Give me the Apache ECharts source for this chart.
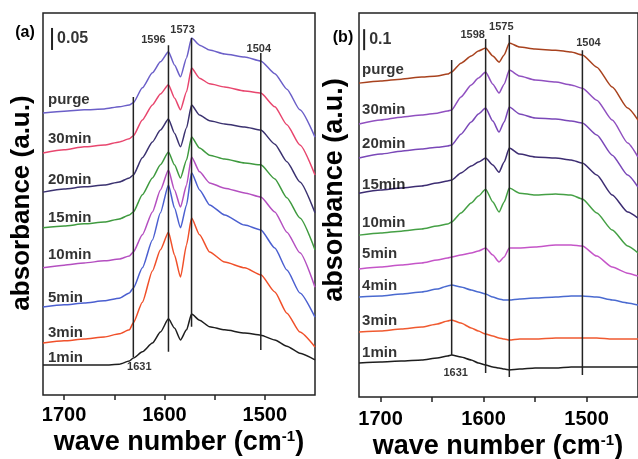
<!DOCTYPE html>
<html><head><meta charset="utf-8">
<script src="https://cdn.jsdelivr.net/npm/echarts@6/dist/echarts.min.js"></script>
<style>html,body{margin:0;padding:0;background:#fff}#c{width:638px;height:459px}</style>
</head><body><div id="c"></div>
<script>
// ---------- Panel (a) data ----------
const wnA = [1721,1700,1680,1660,1645,1635,1631,1622,1612,1604,1596,1590,1584,1578,1573,1565,1555,1540,1520,1504,1490,1478,1465,1450];
const a1min  = [0.068,0.068,0.068,0.068,0.070,0.077,0.084,0.098,0.118,0.143,0.173,0.152,0.125,0.148,0.184,0.170,0.155,0.148,0.141,0.136,0.125,0.111,0.095,0.080];
const a3min  = [0.118,0.123,0.127,0.132,0.139,0.148,0.164,0.211,0.282,0.330,0.370,0.318,0.268,0.341,0.402,0.364,0.325,0.302,0.289,0.273,0.234,0.186,0.143,0.109];
const a5min  = [0.200,0.205,0.209,0.214,0.220,0.232,0.243,0.289,0.352,0.414,0.477,0.425,0.380,0.432,0.505,0.466,0.432,0.409,0.386,0.375,0.334,0.284,0.232,0.177];
const a10min = [0.289,0.295,0.300,0.305,0.309,0.316,0.325,0.364,0.416,0.466,0.511,0.466,0.427,0.477,0.541,0.507,0.482,0.470,0.459,0.450,0.416,0.370,0.323,0.245];
const a15min = [0.380,0.384,0.389,0.393,0.400,0.409,0.416,0.455,0.493,0.523,0.552,0.523,0.493,0.534,0.586,0.561,0.545,0.536,0.527,0.523,0.491,0.448,0.402,0.330];
const a20min = [0.461,0.468,0.473,0.477,0.484,0.493,0.500,0.539,0.575,0.602,0.627,0.595,0.564,0.607,0.659,0.636,0.623,0.616,0.609,0.602,0.570,0.530,0.484,0.414];
const a30min = [0.550,0.557,0.564,0.568,0.575,0.582,0.589,0.625,0.659,0.684,0.705,0.675,0.648,0.689,0.743,0.720,0.707,0.700,0.691,0.686,0.655,0.614,0.568,0.500];
const aPurge = [0.641,0.645,0.648,0.650,0.655,0.659,0.664,0.698,0.732,0.757,0.780,0.750,0.723,0.766,0.811,0.795,0.784,0.775,0.768,0.759,0.730,0.695,0.648,0.586];
const namesA = ['1min','3min','5min','10min','15min','20min','30min','purge'];
const peakWnA = [1631,1596,1573,1504];
const peakTopA = [0.677,0.795,0.811,0.777];
const peakBottomA = [0.086,0.098,0.155,0.102];
const scaleA = [1712, 0.784, 0.05];

// ---------- Panel (b) data ----------
const wnB = [1721,1700,1680,1660,1645,1635,1631,1622,1612,1605,1598,1591,1585,1580,1575,1565,1550,1530,1515,1504,1490,1475,1460,1450];
const b1min  = [0.162,0.167,0.171,0.176,0.186,0.195,0.200,0.190,0.176,0.162,0.152,0.143,0.138,0.133,0.129,0.133,0.138,0.138,0.143,0.143,0.143,0.143,0.143,0.143];
const b3min  = [0.310,0.314,0.324,0.333,0.348,0.362,0.367,0.352,0.329,0.314,0.300,0.290,0.281,0.276,0.271,0.276,0.276,0.281,0.281,0.281,0.281,0.276,0.276,0.276];
const b4min  = [0.476,0.481,0.490,0.500,0.514,0.529,0.533,0.524,0.510,0.500,0.490,0.476,0.467,0.462,0.462,0.467,0.471,0.476,0.481,0.481,0.476,0.462,0.448,0.438];
const b5min  = [0.610,0.619,0.629,0.638,0.652,0.662,0.667,0.676,0.686,0.695,0.710,0.676,0.643,0.667,0.710,0.710,0.714,0.724,0.724,0.719,0.671,0.619,0.590,0.576];
const b10min = [0.771,0.781,0.790,0.800,0.814,0.824,0.833,0.876,0.924,0.957,0.990,0.929,0.881,0.929,0.995,0.971,0.962,0.967,0.962,0.943,0.876,0.795,0.719,0.686];
const b15min = [0.971,0.986,0.995,1.005,1.019,1.029,1.033,1.067,1.100,1.119,1.138,1.105,1.071,1.119,1.186,1.157,1.143,1.138,1.129,1.114,1.057,0.962,0.881,0.852];
const b20min = [1.138,1.157,1.171,1.181,1.190,1.195,1.200,1.252,1.310,1.348,1.376,1.314,1.262,1.310,1.381,1.348,1.329,1.324,1.314,1.305,1.248,1.152,1.057,1.000];
const b30min = [1.300,1.319,1.333,1.343,1.352,1.362,1.367,1.429,1.486,1.519,1.548,1.490,1.448,1.490,1.557,1.529,1.510,1.500,1.486,1.471,1.414,1.319,1.210,1.143];
const bPurge = [1.495,1.505,1.514,1.524,1.529,1.538,1.548,1.590,1.624,1.648,1.662,1.624,1.595,1.629,1.686,1.667,1.657,1.652,1.643,1.629,1.571,1.476,1.376,1.319];
const namesB = ['1min','3min','4min','5min','10min','15min','20min','30min','purge'];
const peakWnB = [1631,1598,1575,1504];
const peakTopB = [1.605,1.705,1.724,1.652];
const peakBottomB = [0.200,0.114,0.095,0.105];
const scaleB = [1716, 1.652, 0.1];

const xTickValues = [1700,1650,1600,1550,1500];
const xLabelValues = [1700,1600,1500];

// ---------- styles ----------
const FONT = "'Liberation Sans', Arial, sans-serif";
const colorsA = ['#1e1e1e','#f0502a','#4b5fd0','#b44fc0','#3f9a3f','#3b3270','#e8466e','#6b5fc8'];
const colorsB = ['#1e1e1e','#f05a30','#4a6ad0','#c555c8','#45a045','#3d2d72','#7a48b8','#9050c0','#a8421e'];
const labelOffA = [-7,-10,-9,-13,-10,-12,-14,-13];
const labelOffB = [-10,-11,-11,-15,-12,-8,-14,-14,-13];
const peakOffA = [[6,10],[-15,-5],[-9,-8],[-2,-4]];
const peakOffB = [[4,18],[-13,-4],[-8,-8],[6,-7]];

const curvesA = [a1min,a3min,a5min,a10min,a15min,a20min,a30min,aPurge];
const curvesB = [b1min,b3min,b4min,b5min,b10min,b15min,b20min,b30min,bPurge];

function panelSeries(idx, wn, curves, colors, names, labelWn, labelOff, peakWn, peakTop, peakBottom, peakOff, scale, scaleText) {
  const s = [];
  curves.forEach((c, i) => {
    s.push({
      type: 'line', xAxisIndex: idx, yAxisIndex: idx, showSymbol: false, smooth: 0.2, smoothMonotone: 'x',
      lineStyle: { color: colors[i], width: 1.5 }, z: 3,
      data: wn.map((w, k) => [w, c[k]])
    });
  });
  peakWn.forEach((w, i) => {
    s.push({
      type: 'line', xAxisIndex: idx, yAxisIndex: idx, showSymbol: false,
      lineStyle: { color: '#222', width: 1.5 }, z: 4,
      data: [[w, peakTop[i]], [w, peakBottom[i]]]
    });
  });
  s.push({
    type: 'scatter', xAxisIndex: idx, yAxisIndex: idx, symbolSize: 0, z: 5,
    data: peakWn.map((w, i) => ({
      value: i === 0 ? [w, peakBottom[i]] : [w, peakTop[i]],
      label: { show: true, position: 'inside', offset: peakOff[i], formatter: String(w),
        fontFamily: FONT, fontWeight: 'bold', fontSize: 11, color: '#000' }
    }))
  });
  s.push({
    type: 'scatter', xAxisIndex: idx, yAxisIndex: idx, symbolSize: 0, z: 5,
    data: curves.map((c, i) => ({
      value: [labelWn, c[0]],
      label: { show: true, position: 'right', distance: 0, offset: [0, labelOff[i]], formatter: names[i],
        fontFamily: FONT, fontWeight: 'bold', fontSize: 15, color: '#000' }
    }))
  });
  s.push({
    type: 'line', xAxisIndex: idx, yAxisIndex: idx, showSymbol: false,
    lineStyle: { color: '#222', width: 2 }, z: 5,
    data: [[scale[0], scale[1]], [scale[0], scale[1] + scale[2]]]
  });
  s.push({
    type: 'scatter', xAxisIndex: idx, yAxisIndex: idx, symbolSize: 0, z: 5,
    data: [{ value: [scale[0], scale[1] + scale[2] / 2],
      label: { show: true, position: 'right', distance: 5, formatter: scaleText,
        fontFamily: FONT, fontWeight: 'bold', fontSize: 16, color: '#000' } }]
  });
  return s;
}

function xAxisCfg(idx, margin) {
  return {
    type: 'value', gridIndex: idx, inverse: true, min: 1450, max: 1721,
    splitLine: { show: false }, axisLine: { show: false },
    axisTick: { show: true, inside: false, length: 5, customValues: xTickValues, lineStyle: { color: '#222', width: 1.5 } },
    axisLabel: { show: true, customValues: xLabelValues, margin: margin, formatter: v => String(v),
      fontFamily: FONT, fontWeight: 'bold', fontSize: 20, color: '#000' }
  };
}

const chart = echarts.init(document.getElementById('c'), null, { renderer: 'canvas' });
chart.setOption({
  animation: false,
  backgroundColor: '#ffffff',
  grid: [
    { left: 43, top: 13, width: 272, height: 382, show: true, borderColor: '#222', borderWidth: 1.5, backgroundColor: 'transparent' },
    { left: 359, top: 13, width: 282, height: 384, show: true, borderColor: '#222', borderWidth: 1.5, backgroundColor: 'transparent' }
  ],
  xAxis: [xAxisCfg(0, 10), xAxisCfg(1, 12)],
  yAxis: [
    { type: 'value', gridIndex: 0, min: 0, max: 0.868, show: false },
    { type: 'value', gridIndex: 1, min: 0, max: 1.829, show: false }
  ],
  series: [].concat(
    panelSeries(0, wnA, curvesA, colorsA, namesA, 1716, labelOffA, peakWnA, peakTopA, peakBottomA, peakOffA, scaleA, '0.05'),
    panelSeries(1, wnB, curvesB, colorsB, namesB, 1718, labelOffB, peakWnB, peakTopB, peakBottomB, peakOffB, scaleB, '0.1')
  ),
  graphic: [
    { type: 'text', x: 25, y: 33, style: { text: '(a)', font: "bold 16px 'Liberation Sans', Arial", fill: '#000', textAlign: 'center', textVerticalAlign: 'middle' } },
    { type: 'text', x: 343, y: 38, style: { text: '(b)', font: "bold 16px 'Liberation Sans', Arial", fill: '#000', textAlign: 'center', textVerticalAlign: 'middle' } },
    { type: 'text', x: 22, y: 203, rotation: Math.PI / 2, style: { text: 'absorbance (a.u.)', font: "bold 26px 'Liberation Sans', Arial", fill: '#000', textAlign: 'center', textVerticalAlign: 'middle' } },
    { type: 'text', x: 335, y: 190, rotation: Math.PI / 2, style: { text: 'absorbance (a.u.)', font: "bold 27px 'Liberation Sans', Arial", fill: '#000', textAlign: 'center', textVerticalAlign: 'middle' } },
    { type: 'text', x: 179, y: 443, style: { text: 'wave number (cm{sup|-1})', fill: '#000', textAlign: 'center', textVerticalAlign: 'middle',
        font: "bold 27px 'Liberation Sans', Arial",
        rich: { sup: { fontSize: 15, fontWeight: 'bold', fontFamily: FONT, verticalAlign: 'top', lineHeight: 27, fill: '#000' } } } },
    { type: 'text', x: 498, y: 447, style: { text: 'wave number (cm{sup|-1})', fill: '#000', textAlign: 'center', textVerticalAlign: 'middle',
        font: "bold 27px 'Liberation Sans', Arial",
        rich: { sup: { fontSize: 15, fontWeight: 'bold', fontFamily: FONT, verticalAlign: 'top', lineHeight: 27, fill: '#000' } } } }
  ]
});
</script>
</body></html>
